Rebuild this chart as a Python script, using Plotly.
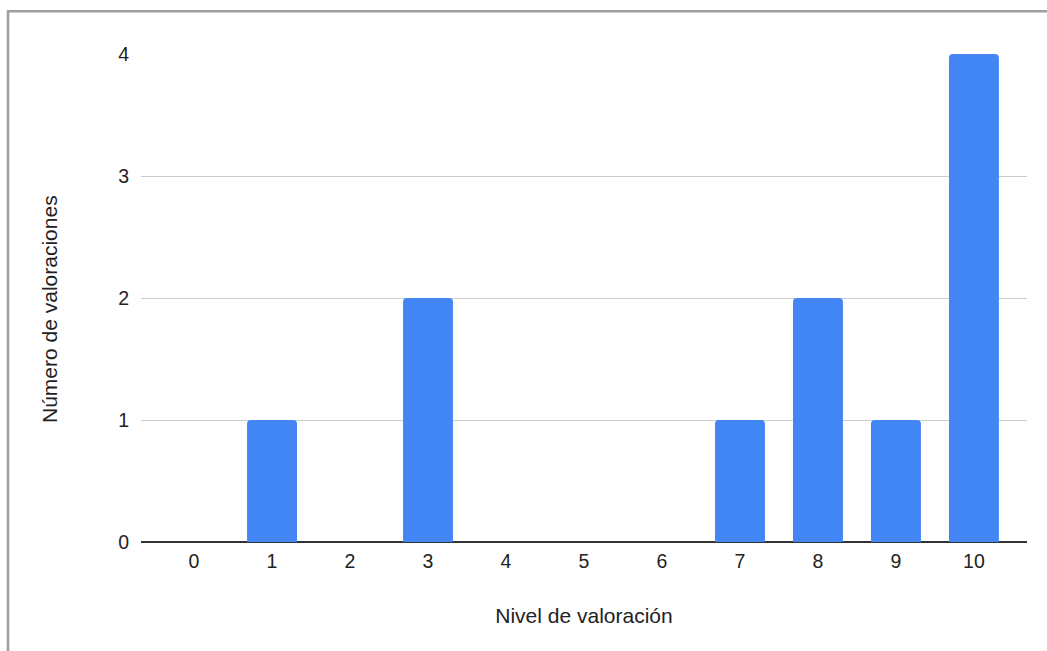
import plotly.graph_objects as go

# Ratings histogram: how many ratings received at each level 0-10
niveles = ["0", "1", "2", "3", "4", "5", "6", "7", "8", "9", "10"]
valoraciones = [0, 1, 0, 2, 0, 0, 0, 1, 2, 1, 4]
y_ticks = [0, 1, 2, 3, 4]

FONT = "Liberation Sans, Arial, sans-serif"

fig = go.Figure(
    go.Bar(
        x=niveles,
        y=valoraciones,
        marker=dict(color="#4285F4", cornerradius=4, line=dict(width=0)),
        hoverinfo="x+y",
    )
)

fig.update_layout(
    width=1047,
    height=651,
    margin=dict(l=141, r=20, t=54, b=109),
    paper_bgcolor="white",
    plot_bgcolor="white",
    bargap=0.36,
    showlegend=False,
    font=dict(family=FONT, color="#222222"),
    xaxis=dict(
        type="category",
        range=[-0.68, 10.68],
        showgrid=False,
        zeroline=False,
        showline=False,
        ticks="",
        tickfont=dict(size=19.5, color="#222222"),
        ticklabelstandoff=5,
        title=dict(
            text="Nivel de valoración",
            font=dict(size=21, color="#222222"),
            standoff=37,
        ),
    ),
    yaxis=dict(
        range=[0, 4],
        tickvals=y_ticks,
        showgrid=True,
        gridcolor="#cccccc",
        gridwidth=1,
        zeroline=True,
        zerolinecolor="#333333",
        zerolinewidth=1.5,
        showline=False,
        ticks="",
        tickfont=dict(size=19.5, color="#222222"),
        ticklabelstandoff=11,
    ),
    annotations=[
        # vertical axis title, sitting slightly below the plot's midline
        dict(
            text="Número de valoraciones",
            textangle=-90,
            xref="paper",
            yref="paper",
            x=-0.1027,
            y=0.4775,
            xanchor="center",
            yanchor="middle",
            showarrow=False,
            font=dict(size=21, color="#222222"),
        )
    ],
    shapes=[
        dict(
            type="rect",
            xref="paper",
            yref="paper",
            x0=-0.1501,
            x1=1.2,
            y0=-0.5,
            y1=1.0875,
            line=dict(color="#9e9e9e", width=2.5),
            fillcolor="rgba(0,0,0,0)",
            layer="above",
        )
    ],
)

fig.write_html("out.html")
